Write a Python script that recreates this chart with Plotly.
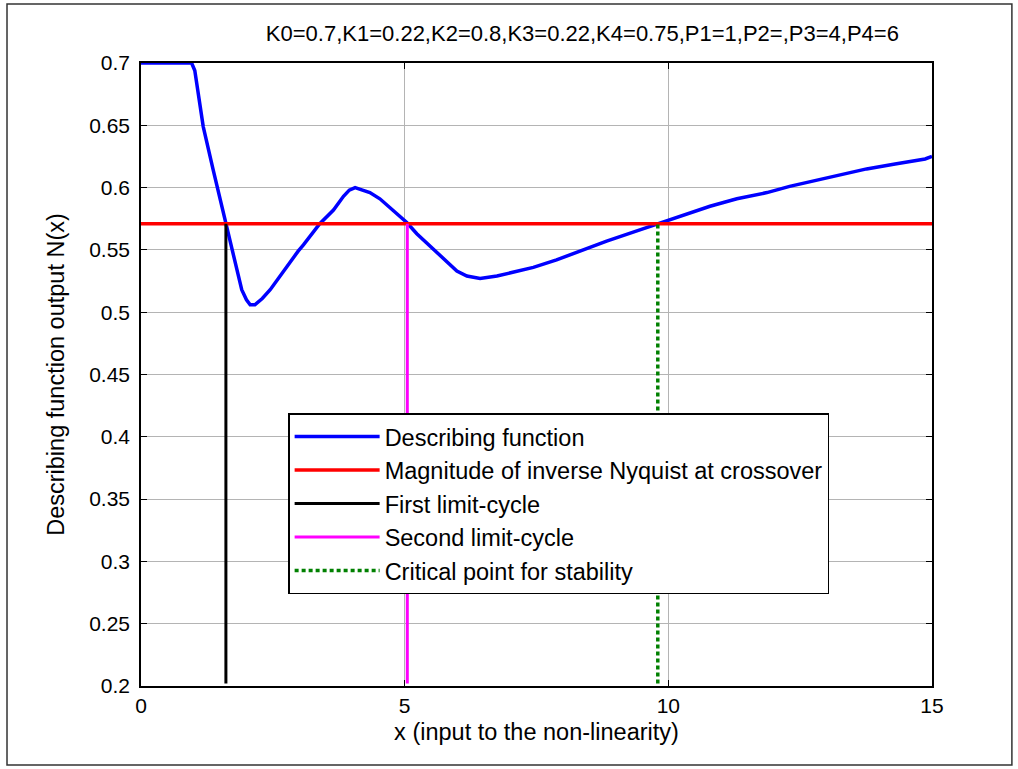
import plotly.graph_objects as go

# Describing function curve
x_df = [0, 0.96, 1.02, 1.18, 1.37, 1.61, 1.78, 1.91, 2.0, 2.07, 2.16, 2.3, 2.45, 2.6, 2.76,
        2.98, 3.08, 3.39, 3.65, 3.84, 3.95, 4.06, 4.2, 4.34, 4.53, 4.66, 4.85, 5.04, 5.23,
        5.48, 5.67, 5.99, 6.18, 6.43, 6.75, 7.06, 7.44, 7.88, 8.33, 8.83, 9.46, 9.81, 10.22,
        10.79, 11.3, 11.87, 12.3, 12.81, 13.3, 13.76, 14.3, 14.87, 15]
y_df = [0.7, 0.7, 0.694, 0.649, 0.614, 0.571, 0.542, 0.518, 0.510, 0.506, 0.506, 0.511,
        0.518, 0.527, 0.537, 0.549, 0.554, 0.571, 0.582, 0.593, 0.598, 0.600, 0.598, 0.596,
        0.591, 0.586, 0.579, 0.572, 0.563, 0.553, 0.545, 0.533, 0.529, 0.527, 0.529, 0.532,
        0.536, 0.542, 0.549, 0.557, 0.566, 0.571, 0.577, 0.585, 0.591, 0.596, 0.601, 0.606,
        0.611, 0.615, 0.619, 0.623, 0.625]

nyq_level = 0.571
x_range = [0, 15]
y_range = [0.2, 0.7]
line_bottom = 0.202
x_first = 1.61
x_second = 5.05
x_critical = 9.80

x_ticks = [0, 5, 10, 15]
y_ticks = [0.2, 0.25, 0.3, 0.35, 0.4, 0.45, 0.5, 0.55, 0.6, 0.65, 0.7]
y_tick_text = ["0.2", "0.25", "0.3", "0.35", "0.4", "0.45", "0.5", "0.55", "0.6", "0.65", "0.7"]

title_text = "K0=0.7,K1=0.22,K2=0.8,K3=0.22,K4=0.75,P1=1,P2=,P3=4,P4=6"
x_label = "x (input to the non-linearity)"
y_label = "Describing function output N(x)"
names = ["Describing function", "Magnitude of inverse Nyquist at crossover",
         "First limit-cycle", "Second limit-cycle", "Critical point for stability"]

FONT = "Liberation Sans, Arial, Helvetica, sans-serif"

fig = go.Figure()
fig.add_trace(go.Scatter(x=x_df, y=y_df, mode="lines", name=names[0], legendgroup="a",
                         line=dict(color="#0000ff", width=3.5)))
fig.add_trace(go.Scatter(x=x_range, y=[nyq_level, nyq_level], mode="lines", name=names[1],
                         legendgroup="b", line=dict(color="#ff0000", width=3.5)))
fig.add_trace(go.Scatter(x=[x_first, x_first], y=[line_bottom, nyq_level], mode="lines",
                         name=names[2], legendgroup="c", line=dict(color="#000000", width=3)))
fig.add_trace(go.Scatter(x=[x_second, x_second], y=[line_bottom, nyq_level], mode="lines",
                         name=names[3], legendgroup="d", line=dict(color="#ff00ff", width=3)))
fig.add_trace(go.Scatter(x=[x_critical, x_critical], y=[line_bottom, nyq_level], mode="lines",
                         name=names[4], legendgroup="e",
                         line=dict(color="#008000", width=3.5, dash="4px,3px")))

# outer figure frame
fig.add_shape(type="rect", xref="paper", yref="paper", x0=-0.1694, x1=1.101, y0=-0.1268, y1=1.0947,
              line=dict(color="#333333", width=1.5), layer="below")

fig.update_layout(
    width=1018, height=769,
    margin=dict(l=141, r=86, t=63, b=83),
    paper_bgcolor="white", plot_bgcolor="white",
    font=dict(family=FONT, size=21, color="black"),
    title=dict(text=title_text, x=0.558, xref="paper", xanchor="center",
               y=1 - 33 / 769, yref="container", yanchor="middle", font=dict(size=22)),
    showlegend=True,
    legend=dict(x=0.186, y=0.438, xanchor="left", yanchor="top",
                bgcolor="white", bordercolor="black", borderwidth=1.5,
                font=dict(size=23.5), tracegroupgap=0, itemwidth=85),
    xaxis=dict(range=x_range, tickvals=x_ticks, showgrid=True, gridcolor="#b4b4b4",
               gridwidth=1, showline=True, linecolor="black", linewidth=1.5, mirror="ticks",
               ticks="inside", ticklen=6, tickcolor="black", zeroline=False,
               title=dict(text=x_label, standoff=8, font=dict(size=23.5)),
               tickfont=dict(size=21)),
    yaxis=dict(range=y_range, tickvals=y_ticks, ticktext=y_tick_text, showgrid=True,
               gridcolor="#b4b4b4", gridwidth=1, showline=True, linecolor="black",
               linewidth=1.5, mirror="ticks", ticks="inside", ticklen=6, tickcolor="black",
               zeroline=False, ticklabelstandoff=5,
               title=dict(text=y_label, standoff=18, font=dict(size=23.5)),
               tickfont=dict(size=21)),
)

fig.write_html("out.html", config={"displayModeBar": False},
               post_script="document.body.style.margin='0';document.body.style.padding='0';")
